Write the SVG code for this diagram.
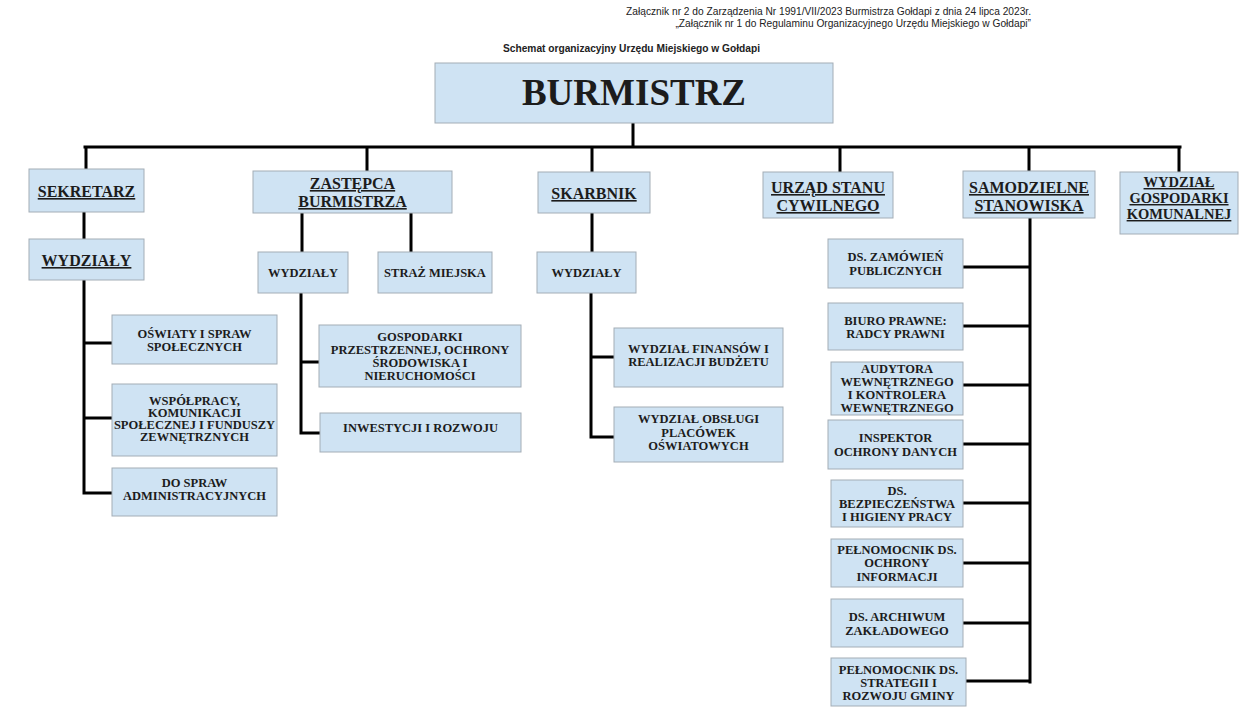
<svg xmlns="http://www.w3.org/2000/svg" width="1246" height="727" viewBox="0 0 1246 727">
<style>
.box{fill:#cfe3f3;stroke:#a3adb6;stroke-width:1}
.t{font-family:"Liberation Serif","Times New Roman",serif;font-weight:bold;fill:#1c1c1c;text-anchor:middle}
.s{font-size:12.5px}
.h{font-size:16px;text-decoration:underline}
.k{font-size:14.5px;text-decoration:underline}
.hdr{font-family:"Liberation Sans",Arial,sans-serif;font-size:10.2px;fill:#222}
.ln{stroke:#000;stroke-width:3;fill:none;stroke-linecap:square}
</style>
<rect x="0" y="0" width="1246" height="727" fill="#fff"/>
<g id="header">
<text class="hdr" x="1031" y="15" text-anchor="end">Załącznik nr 2 do Zarządzenia Nr 1991/VII/2023 Burmistrza Gołdapi z dnia 24 lipca 2023r.</text>
<text class="hdr" x="1031" y="27" text-anchor="end">„Załącznik nr 1 do Regulaminu Organizacyjnego Urzędu Miejskiego w Gołdapi”</text>
<text class="hdr" x="503" y="52" font-weight="bold">Schemat organizacyjny Urzędu Miejskiego w Gołdapi</text>
</g>
<g id="connectors">
<path class="ln" d="M633 123V147M85 147H1180M86 147V169M367 147V171M592 147V172M840 147V172M1029 147V171M1179 147V172"/>
<path class="ln" d="M84 212V239M84 280V493M84 343H112M84 418H112M84 493H112"/>
<path class="ln" d="M302 213V252M411 213V252M301 293V433M301 362H319M301 433H320"/>
<path class="ln" d="M592 213V252M591 293V437M591 357H614M591 437H614"/>
<path class="ln" d="M1030 218V682M963 267H1030M963 326H1030M963 385H1030M963 444H1030M963 503H1030M963 563H1030M963 623H1030M966 681H1030"/>
</g>
<g id="burmistrz"><rect class="box" x="435" y="63" width="398" height="60"/><text class="t" x="634" y="105" font-size="37">BURMISTRZ</text></g>
<g id="sekretarz"><rect class="box" x="29" y="169" width="115" height="43"/><text class="t h" x="86.5" y="197">SEKRETARZ</text></g>
<g id="sek-wydzialy"><rect class="box" x="29" y="239" width="115" height="41"/><text class="t h" x="86.5" y="266">WYDZIAŁY</text></g>
<g id="oswiaty"><rect class="box" x="112" y="315" width="165" height="49"/><text class="t s" x="194.5" y="338">OŚWIATY I SPRAW<tspan x="194.5" dy="13">SPOŁECZNYCH</tspan></text></g>
<g id="wspolpracy"><rect class="box" x="112" y="384" width="165" height="72"/><text class="t s" x="194.5" y="405">WSPÓŁPRACY,<tspan x="194.5" dy="12">KOMUNIKACJI</tspan><tspan x="194.5" dy="12">SPOŁECZNEJ I FUNDUSZY</tspan><tspan x="194.5" dy="12">ZEWNĘTRZNYCH</tspan></text></g>
<g id="administracyjnych"><rect class="box" x="112" y="468" width="165" height="48"/><text class="t s" x="194.5" y="487">DO SPRAW<tspan x="194.5" dy="13">ADMINISTRACYJNYCH</tspan></text></g>
<g id="zastepca"><rect class="box" x="253" y="171" width="199" height="42"/><text class="t h" x="352.5" y="189">ZASTĘPCA<tspan x="352.5" dy="18">BURMISTRZA</tspan></text></g>
<g id="zast-wydzialy"><rect class="box" x="258" y="252" width="90" height="41"/><text class="t s" x="303" y="277">WYDZIAŁY</text></g>
<g id="straz"><rect class="box" x="378" y="252" width="114" height="41"/><text class="t s" x="435" y="277">STRAŻ MIEJSKA</text></g>
<g id="gospodarki-przestrzennej"><rect class="box" x="319" y="325" width="202" height="62"/><text class="t s" x="420" y="341">GOSPODARKI<tspan x="420" dy="13">PRZESTRZENNEJ, OCHRONY</tspan><tspan x="420" dy="13">ŚRODOWISKA I</tspan><tspan x="420" dy="13">NIERUCHOMOŚCI</tspan></text></g>
<g id="inwestycji"><rect class="box" x="320" y="413" width="201" height="39"/><text class="t s" x="420.5" y="432">INWESTYCJI I ROZWOJU</text></g>
<g id="skarbnik"><rect class="box" x="538" y="172" width="112" height="41"/><text class="t h" x="594" y="199">SKARBNIK</text></g>
<g id="skarb-wydzialy"><rect class="box" x="537" y="252" width="99" height="41"/><text class="t s" x="586.5" y="277">WYDZIAŁY</text></g>
<g id="finansow"><rect class="box" x="614" y="328" width="169" height="59"/><text class="t s" x="698.5" y="353">WYDZIAŁ FINANSÓW I<tspan x="698.5" dy="13">REALIZACJI BUDŻETU</tspan></text></g>
<g id="obslugi"><rect class="box" x="614" y="407" width="169" height="55"/><text class="t s" x="698.5" y="423">WYDZIAŁ OBSŁUGI<tspan x="698.5" dy="13.5">PLACÓWEK</tspan><tspan x="698.5" dy="13.5">OŚWIATOWYCH</tspan></text></g>
<g id="usc"><rect class="box" x="763" y="172" width="130" height="46"/><text class="t h" x="828" y="193">URZĄD STANU<tspan x="828" dy="18">CYWILNEGO</tspan></text></g>
<g id="samodzielne"><rect class="box" x="963" y="171" width="132" height="47"/><text class="t h" x="1029" y="193">SAMODZIELNE<tspan x="1029" dy="18">STANOWISKA</tspan></text></g>
<g id="gospodarki-komunalnej"><rect class="box" x="1120" y="172" width="118" height="62"/><text class="t k" x="1179" y="187">WYDZIAŁ<tspan x="1179" dy="16">GOSPODARKI</tspan><tspan x="1179" dy="16">KOMUNALNEJ</tspan></text></g>
<g id="zamowien"><rect class="box" x="828" y="239" width="135" height="49"/><text class="t s" x="895.5" y="261">DS. ZAMÓWIEŃ<tspan x="895.5" dy="14">PUBLICZNYCH</tspan></text></g>
<g id="biuro-prawne"><rect class="box" x="828" y="303" width="135" height="47"/><text class="t s" x="895.5" y="325">BIURO PRAWNE:<tspan x="895.5" dy="12.5">RADCY PRAWNI</tspan></text></g>
<g id="audytora"><rect class="box" x="831" y="362" width="132" height="53"/><text class="t s" x="897" y="373">AUDYTORA<tspan x="897" dy="12.5">WEWNĘTRZNEGO</tspan><tspan x="897" dy="13.5">I KONTROLERA</tspan><tspan x="897" dy="13">WEWNĘTRZNEGO</tspan></text></g>
<g id="inspektor"><rect class="box" x="828" y="420" width="135" height="49"/><text class="t s" x="895.5" y="442">INSPEKTOR<tspan x="895.5" dy="14">OCHRONY DANYCH</tspan></text></g>
<g id="bhp"><rect class="box" x="831" y="480" width="132" height="47"/><text class="t s" x="897" y="495">DS.<tspan x="897" dy="12.5">BEZPIECZEŃSTWA</tspan><tspan x="897" dy="13.5">I HIGIENY PRACY</tspan></text></g>
<g id="ochrony-informacji"><rect class="box" x="831" y="539" width="132" height="48"/><text class="t s" x="897" y="554">PEŁNOMOCNIK DS.<tspan x="897" dy="13">OCHRONY</tspan><tspan x="897" dy="14">INFORMACJI</tspan></text></g>
<g id="archiwum"><rect class="box" x="831" y="599" width="132" height="48"/><text class="t s" x="897" y="621">DS. ARCHIWUM<tspan x="897" dy="13.5">ZAKŁADOWEGO</tspan></text></g>
<g id="strategii"><rect class="box" x="831" y="658" width="135" height="48"/><text class="t s" x="898.5" y="674">PEŁNOMOCNIK DS.<tspan x="898.5" dy="12.5">STRATEGII I</tspan><tspan x="898.5" dy="13.5">ROZWOJU GMINY</tspan></text></g>
</svg>
